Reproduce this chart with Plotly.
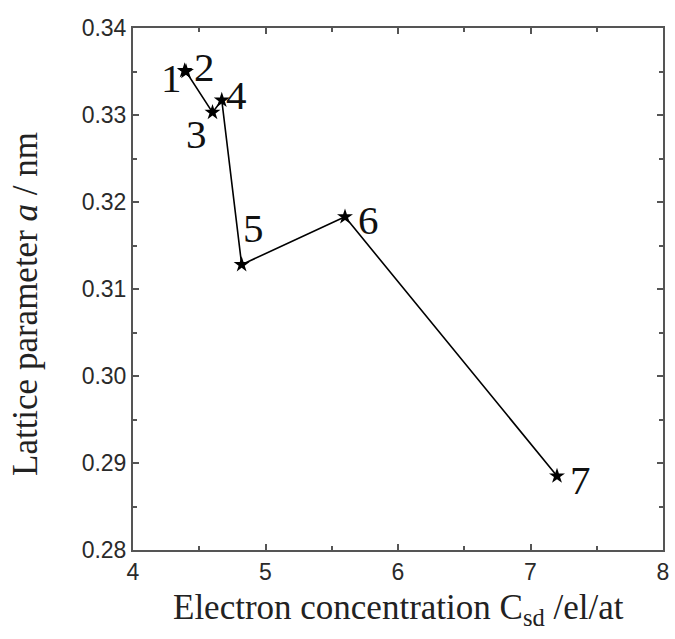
import plotly.graph_objects as go

# Electron concentration (el/at) and lattice parameter a (nm) for samples 1-7
sample_ids = ["1", "2", "3", "4", "5", "6", "7"]
electron_conc = [4.39, 4.40, 4.60, 4.67, 4.82, 5.60, 7.20]
lattice_a = [0.3351, 0.3350, 0.3303, 0.3317, 0.3128, 0.3183, 0.2885]

# Axis ticks
x_ticks = [4, 5, 6, 7, 8]
y_ticks = [0.28, 0.29, 0.30, 0.31, 0.32, 0.33, 0.34]

# Pixel offsets of each number label from its point
label_dx = [-13, 18, -16, 15, 12, 23, 23]
label_dy = [-7, 5, -22, 5, 37, -3, -4]

fig = go.Figure()
fig.add_trace(go.Scatter(
    x=electron_conc, y=lattice_a, mode="lines+markers",
    line=dict(color="black", width=1.6),
    marker=dict(symbol="star", size=12, color="black"),
    showlegend=False,
))

for sid, xv, yv, dx, dy in zip(sample_ids, electron_conc, lattice_a, label_dx, label_dy):
    fig.add_annotation(
        x=xv, y=yv, text=sid, showarrow=False, xshift=dx, yshift=dy,
        font=dict(family="Liberation Serif", size=41, color="#111"),
    )

title_font = dict(family="Liberation Serif", size=35, color="#222")

# Axis titles placed as paper-anchored annotations
fig.add_annotation(
    xref="paper", yref="paper", x=0.5, y=0, yanchor="top",
    yshift=-36, showarrow=False,
    text="Electron concentration C<sub>sd</sub> /el/at", font=title_font,
)
fig.add_annotation(
    xref="paper", yref="paper", x=0, y=0.5, xanchor="center", yanchor="middle",
    xshift=-108, yshift=-15, textangle=-90, showarrow=False,
    text="Lattice parameter <i>a</i> / nm", font=title_font,
)

axis_common = dict(
    showline=True, linecolor="#555", linewidth=2, mirror="ticks",
    ticks="inside", ticklen=6, tickwidth=1.5, tickcolor="#555",
    showgrid=False, zeroline=False,
    tickfont=dict(family="Liberation Sans", size=23, color="#2a2a2a"),
)

fig.update_xaxes(
    range=[4, 8], tickvals=x_ticks, ticktext=[str(v) for v in x_ticks],
    minor=dict(ticks="inside", ticklen=4, tickcolor="#555", dtick=0.5),
    **axis_common,
)
fig.update_yaxes(
    range=[0.28, 0.34], tickvals=y_ticks, ticktext=[f"{v:.2f}" for v in y_ticks],
    minor=dict(ticks="inside", ticklen=4, tickcolor="#555", dtick=0.005),
    **axis_common,
)

fig.update_layout(
    width=675, height=639,
    margin=dict(l=133, r=6, t=28, b=89),
    plot_bgcolor="white", paper_bgcolor="white",
)

fig.write_html("out.html")
